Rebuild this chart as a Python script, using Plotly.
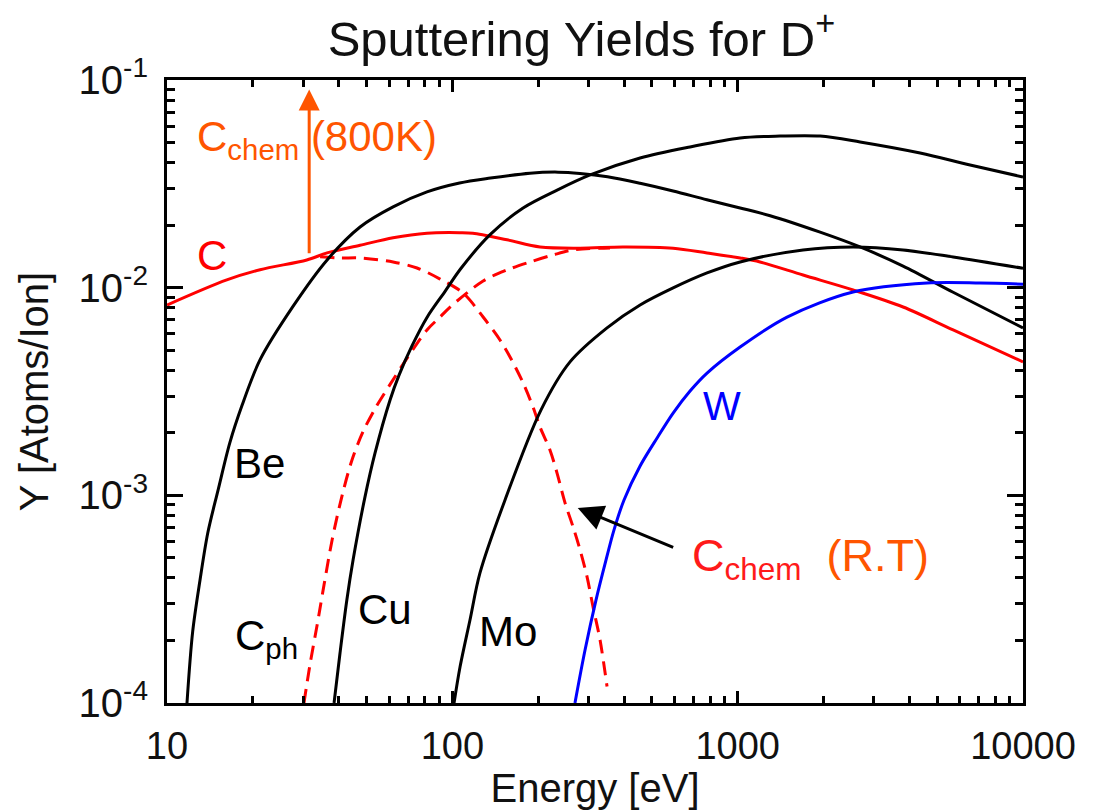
import math
import plotly.graph_objects as go

# ---------------- data ----------------
E_be = [11.75, 12.3, 13.05, 13.9, 15.1, 16.6, 18.3, 21.2, 27.6, 36.4, 47.5, 62, 81.5, 106, 136, 187, 235, 280, 350, 455, 594, 780, 1020, 1300, 1945, 2685, 3800, 5690, 10000]
Y_be = [1.0e-4, 2.2e-4, 3.9e-4, 6.6e-4, 1.06e-3, 1.79e-3, 2.7e-3, 4.5e-3, 8.1e-3, 0.0136, 0.0196, 0.0245, 0.0289, 0.0319, 0.0337, 0.0356, 0.0360, 0.0355, 0.0342, 0.0318, 0.0292, 0.0265, 0.0242, 0.0222, 0.0185, 0.0157, 0.0127, 0.0095, 0.0064]

E_cu = [38.5, 40.4, 42.7, 44.9, 49.4, 53.6, 60.5, 65.1, 72.2, 81.5, 94.3, 107.3, 135.6, 177, 233, 304, 455, 681, 1020, 1408, 1945, 2685, 4360, 6525, 10000]
Y_cu = [1.0e-4, 1.74e-4, 3.14e-4, 4.89e-4, 9.8e-4, 1.6e-3, 2.88e-3, 3.8e-3, 5.24e-3, 7.19e-3, 9.6e-3, 0.0124, 0.0180, 0.0242, 0.0295, 0.0349, 0.0421, 0.0476, 0.0526, 0.0537, 0.0537, 0.0503, 0.0445, 0.0390, 0.0341]

E_mo = [101.4, 106.4, 115.3, 125, 153, 204.6, 258.5, 348.5, 455, 594, 781, 1020, 1695, 2538, 3800, 5690, 10000]
Y_mo = [1.0e-4, 1.49e-4, 2.51e-4, 4.23e-4, 9.5e-4, 2.58e-3, 4.39e-3, 6.4e-3, 8.25e-3, 9.97e-3, 0.01177, 0.0133, 0.0152, 0.0157, 0.0152, 0.01405, 0.0124]

E_w = [269, 291.8, 318.9, 345.7, 368.7, 399.7, 455, 522, 594, 681, 781, 1020, 1490, 2538, 4612, 7072, 10000]
Y_w = [1.0e-4, 1.8e-4, 3.14e-4, 4.89e-4, 6.82e-4, 9.5e-4, 1.385e-3, 1.89e-3, 2.49e-3, 3.18e-3, 3.88e-3, 5.18e-3, 7.22e-3, 9.53e-3, 0.01053, 0.01053, 0.0104]

E_c = [10, 16.2, 21.2, 30.9, 36.4, 47.5, 62, 81.5, 106, 118, 155.5, 203, 280, 396, 594, 781, 1020, 1198, 1695, 2538, 3800, 5690, 10000]
Y_c = [0.00825, 0.0109, 0.0122, 0.0136, 0.0147, 0.0160, 0.0174, 0.0183, 0.0184, 0.0183, 0.0170, 0.0157, 0.0155, 0.0157, 0.0155, 0.0147, 0.0139, 0.0133, 0.0115, 0.00975, 0.00807, 0.00626, 0.00439]

E_cph = [30.2, 31.7, 33.6, 35.5, 37.9, 41.1, 44.5, 48.6, 54, 61, 69.9, 81.5, 90.6, 98.2, 128.2, 155.5, 187.3, 225.4, 265, 357]
Y_cph = [1.0e-4, 1.53e-4, 2.38e-4, 3.7e-4, 6.1e-4, 1.0e-3, 1.48e-3, 2.02e-3, 2.66e-3, 3.48e-3, 4.64e-3, 6.26e-3, 7.22e-3, 8.07e-3, 0.01077, 0.01217, 0.0133, 0.01437, 0.01519, 0.01553]

E_cchem = [34.4, 40.4, 47.5, 62, 75.2, 90.6, 109, 128.2, 146.9, 159.3, 177, 191.8, 203, 220, 232.8, 248.3, 265, 280.3, 296.6, 311.3, 329.4, 348.5]
Y_cchem = [0.0141, 0.0139, 0.0139, 0.0133, 0.01244, 0.0110, 0.00943, 0.00722, 0.0056, 0.00464, 0.00348, 0.00266, 0.00213, 0.00165, 0.00128, 9.2e-4, 7.04e-4, 5.46e-4, 4.05e-4, 2.9e-4, 2.01e-4, 1.2e-4]

x_ticks = [10, 100, 1000, 10000]
x_ticktext = ["10", "100", "1000", "10000"]
y_ticks = [1e-4, 1e-3, 1e-2, 1e-1]
y_ticktext = ["10<sup>-4</sup>", "10<sup>-3</sup>", "10<sup>-2</sup>", "10<sup>-1</sup>"]

# chem-800K arrow (energy, from yield, to yield)
arrow800_E = 31.5
arrow800_from = 0.0144
arrow800_to = 0.09
# R.T. arrow tip on the C_chem curve
arrowRT_E = 275
arrowRT_Y = 8.7e-4

# ---------------- styling ----------------
FONT = "Liberation Sans, Arial, Helvetica, sans-serif"
RED = "#ff0000"
BLUE = "#0000ff"
BLACK = "#000000"
ORANGE = "#ff5500"
TXT = "#111111"

fig = go.Figure()


def add_curve(E, Y, color, dash="solid"):
    fig.add_trace(go.Scatter(x=E, y=Y, mode="lines",
                             line=dict(color=color, width=3, dash=dash, shape="spline", smoothing=0.9),
                             showlegend=False, hoverinfo="skip"))


add_curve(E_cchem, Y_cchem, RED, "14px,8px")
add_curve(E_cph, Y_cph, RED, "14px,8px")
add_curve(E_c, Y_c, RED)
add_curve(E_be, Y_be, BLACK)
add_curve(E_cu, Y_cu, BLACK)
add_curve(E_mo, Y_mo, BLACK)
add_curve(E_w, Y_w, BLUE)

minor_x = [m * 10 ** k for k in (1, 2, 3) for m in range(2, 10)]
minor_y = [m * 10.0 ** k for k in (-4, -3, -2) for m in range(2, 10)]

annotations = []


def label(text, xp, yp, color, size=42, xanchor="center"):
    annotations.append(dict(text=text, x=xp, y=yp, xref="paper", yref="paper",
                            xanchor=xanchor, yanchor="middle", showarrow=False,
                            font=dict(family=FONT, size=size, color=color)))


label("C<sub>chem</sub> (800K)", 0.0327, 0.905, ORANGE, xanchor="left")
label("C", 0.0327, 0.719, RED, xanchor="left")
label("Be", 0.1086, 0.385, BLACK)
label("C<sub>ph</sub>", 0.1157, 0.104, BLACK)
label("Cu", 0.2547, 0.1493, BLACK)
label("Mo", 0.3984, 0.114, BLACK)
label("W", 0.6484, 0.4767, BLUE, size=40)
label("<span style='color:#ff1a1a'>C<sub>chem</sub></span>  (R.T)", 0.611, 0.2327, ORANGE, size=45, xanchor="left")

# orange vertical arrow
annotations.append(dict(x=math.log10(arrow800_E), y=math.log10(arrow800_to), xref="x", yref="y",
                        ax=math.log10(arrow800_E), ay=math.log10(arrow800_from), axref="x", ayref="y",
                        showarrow=True, arrowhead=2, arrowsize=1.4, arrowwidth=3, arrowcolor=ORANGE, text=""))
# black arrow to C_chem (R.T)
annotations.append(dict(x=math.log10(arrowRT_E), y=math.log10(arrowRT_Y), xref="x", yref="y",
                        ax=97, ay=40, showarrow=True, arrowhead=2, arrowsize=1.7, arrowwidth=3,
                        arrowcolor=BLACK, text=""))

axis_common = dict(type="log", showline=True, linecolor=BLACK, linewidth=3, mirror="allticks",
                   ticks="inside", tickwidth=2.5, tickcolor=BLACK, showgrid=False, zeroline=False,
                   automargin=False)

fig.update_layout(
    template="none",
    width=1095, height=810,
    margin=dict(l=167, r=72, t=80, b=107, autoexpand=False),
    paper_bgcolor="white", plot_bgcolor="white",
    font=dict(family=FONT, color=TXT),
    title=dict(text="Sputtering Yields for D<sup>+</sup>", x=0.531, xanchor="center",
               y=0.952, yanchor="middle", font=dict(family=FONT, size=49, color=TXT)),
    xaxis=dict(**axis_common, range=[1, 4], ticklen=12,
               tickmode="array", tickvals=x_ticks, ticktext=x_ticktext,
               tickfont=dict(family=FONT, size=38, color=TXT), ticklabelstandoff=7,
               minor=dict(ticks="inside", ticklen=7, tickwidth=2.5, tickcolor=BLACK,
                          tickmode="array", tickvals=minor_x, showgrid=False),
               title=dict(text="Energy [eV]", font=dict(family=FONT, size=40, color=TXT), standoff=0)),
    yaxis=dict(**axis_common, range=[-4, -1], ticklen=16,
               tickmode="array", tickvals=y_ticks, ticktext=y_ticktext,
               tickfont=dict(family=FONT, size=40, color=TXT), ticklabelstandoff=8,
               minor=dict(ticks="inside", ticklen=8, tickwidth=2.5, tickcolor=BLACK,
                          tickmode="array", tickvals=minor_y, showgrid=False),
               title=dict(text="Y [Atoms/Ion]", font=dict(family=FONT, size=40, color=TXT), standoff=18)),
    annotations=annotations,
)

fig.write_html("out.html", config={"displayModeBar": False},
               post_script="document.body.style.margin='0';document.body.style.overflow='hidden';")
